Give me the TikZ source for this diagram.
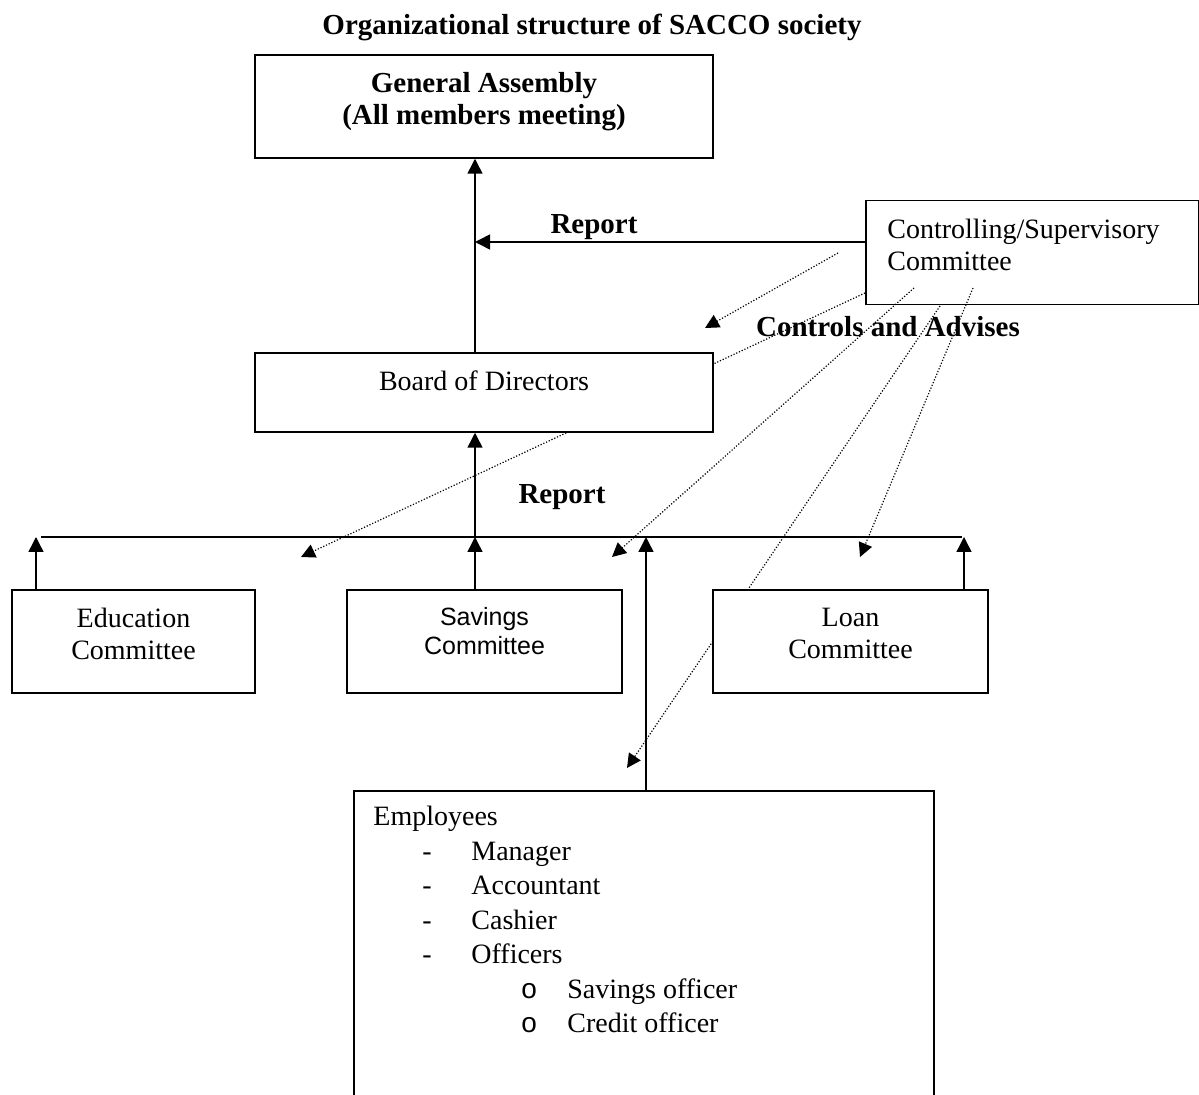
\documentclass[tikz,border=0pt]{standalone}
\usepackage{fontspec}
\setmainfont{Liberation Serif}
\setsansfont{Liberation Sans}
\usetikzlibrary{arrows.meta,calc}
\pgfdeclarelayer{background}
\pgfsetlayers{background,main}
\begin{document}
\begin{tikzpicture}[x=0.5pt,y=-0.5pt,
  box/.style={draw,line width=0.75pt,inner sep=0pt},
  wbox/.style={box,fill=white},
  conn/.style={line width=0.75pt,-{Triangle[length=7.5pt,width=7.5pt]}},
  dotarrow/.style={line width=0.6pt,dash pattern=on 0.6pt off 0.9pt,-{Triangle[length=7pt,width=7pt]}},
  bodytext/.style={font=\fontsize{14}{16}\selectfont,align=center,inner sep=0pt},
  boldtext/.style={font=\fontsize{14.5}{16}\selectfont\bfseries,align=center,inner sep=0pt},
]
\useasboundingbox (0,0) rectangle (1199,1095);

% boxes
\node[wbox,minimum width=229pt,minimum height=51.5pt] (ga) at (484,106.5) {};
\node[wbox,minimum width=229pt,minimum height=39.5pt] (bod) at (484,392.5) {};
\node[box,anchor=north west,minimum width=166.5pt,minimum height=52pt] (ctrl) at (865,200) {};
\node[wbox,minimum width=121.5pt,minimum height=51.5pt] (edu) at (133.5,641.5) {};
\node[wbox,minimum width=137.5pt,minimum height=51.5pt] (sav) at (484.5,641.5) {};
\node[wbox,minimum width=137.5pt,minimum height=51.5pt] (loan) at (850.5,641.5) {};
\node[wbox,anchor=north west,minimum width=290pt,minimum height=156pt] (emp) at (353,790) {};

% texts
\node[boldtext] (title) at (592,28) {Organizational structure of SACCO society};
\node[boldtext] (gatext) at (484,102) {General Assembly\\(All members meeting)};
\node[bodytext] (bodtext) at (484,381) {Board of Directors};
\node[bodytext,align=left,anchor=west] (ctrltext) at (887,245) {Controlling/Supervisory\\Committee};
\node[bodytext] (edutext) at (133.5,633.5) {Education\\Committee};
\node[font=\sffamily\fontsize{12.5}{14.5}\selectfont,align=center,inner sep=0pt] (savtext) at (484.5,631) {Savings\\Committee};
\node[bodytext] (loantext) at (850.5,633.5) {Loan\\Committee};
\node[boldtext] (rep1) at (594,227) {Report};
\node[boldtext] (rep2) at (562,497) {Report};
\node[boldtext] (ctrladv) at (888,327) {Controls and Advises};
\node[font=\fontsize{14}{17.25}\selectfont,align=left,anchor=north west,inner sep=0pt] (emptext) at (373,806) {%
Employees\\
\hspace*{24.5pt}\makebox[24.5pt][l]{-}Manager\\
\hspace*{24.5pt}\makebox[24.5pt][l]{-}Accountant\\
\hspace*{24.5pt}\makebox[24.5pt][l]{-}Cashier\\
\hspace*{24.5pt}\makebox[24.5pt][l]{-}Officers\\
\hspace*{74pt}\makebox[23pt][l]{\sffamily o}Savings officer\\
\hspace*{74pt}\makebox[23pt][l]{\sffamily o}Credit officer};

% coordinates
\coordinate (mainx) at (475,0);
\coordinate (empx) at (646,0);
\coordinate (repy) at (0,242);
\coordinate (busL) at (36,537);
\coordinate (busR) at (964,537);

% solid connectors
\draw[conn] (bod.north -| mainx) -- (ga.south -| mainx);
\draw[conn] (ctrl.west |- repy) -- (mainx |- repy);
\draw[line width=1pt] ($(busL)+(5,0)$) -- ($(busR)+(-2,0)$);
\draw[conn] (mainx |- busL) -- (bod.south -| mainx);
\draw[conn] (edu.north -| busL) -- (busL);
\draw[conn] (sav.north -| mainx) -- (mainx |- busL);
\draw[conn] (loan.north -| busR) -- (busR);
\draw[conn] (emp.north -| empx) -- (empx |- busL);

% dotted connectors
\coordinate (d1s) at (838,253);
\coordinate (d1e) at (705,328);
\coordinate (d2s) at (865,293);
\coordinate (d2e) at (301,557);
\coordinate (d3s) at (914,288);
\coordinate (d3e) at (612,557);
\coordinate (d4s) at (973,288);
\coordinate (d4e) at (860,557);
\coordinate (d5s) at (940,306);
\coordinate (d5e) at (627,768);
\begin{pgfonlayer}{background}
\draw[dotarrow] (d1s) -- (d1e);
\draw[dotarrow] (d2s) -- (d2e);
\draw[dotarrow] (d3s) -- (d3e);
\draw[dotarrow] (d4s) -- (d4e);
\draw[dotarrow] (d5s) -- (d5e);
\end{pgfonlayer}
\end{tikzpicture}
\end{document}
